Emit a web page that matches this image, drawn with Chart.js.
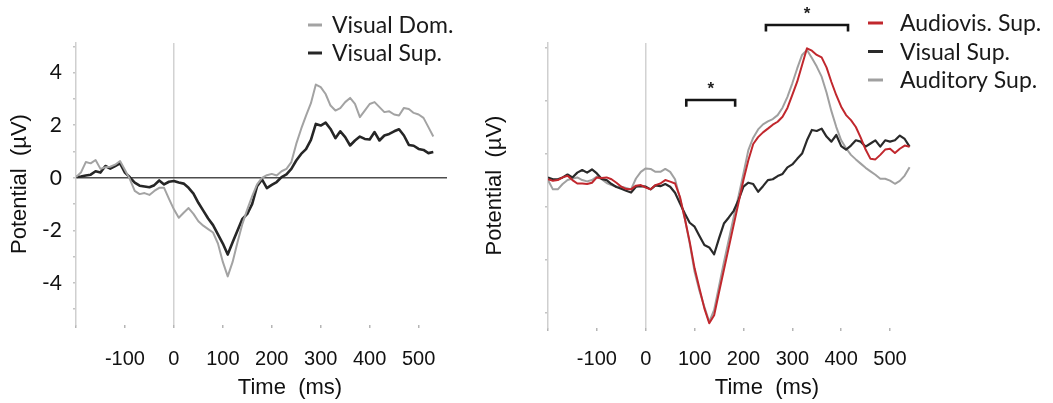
<!DOCTYPE html>
<html>
<head>
<meta charset="utf-8">
<script src="https://cdn.jsdelivr.net/npm/chart.js@4"></script>
<style>
  body { margin: 0; background: #fff; }
  canvas { position: absolute; top: 0; }
  #left-chart { left: 0; }
  #right-chart { left: 472px; }
</style>
</head>
<body>
<canvas id="left-chart" width="470" height="403"></canvas>
<canvas id="right-chart" width="581" height="403"></canvas>
<script>
// Left panel: time points (ms) and the two ERP curves (µV)
const leftTime = [-200, -190, -180, -170, -160, -150, -140, -130, -120, -110, -100, -90, -80, -70, -60, -50, -40, -30, -20, -10,
  0, 10, 20, 30, 40, 50, 60, 70, 80, 90, 100, 110, 120, 130, 140, 150, 160, 170, 180, 190,
  200, 210, 220, 230, 240, 250, 260, 270, 280, 290, 300, 310, 320, 330, 340, 350, 360, 370, 380, 390,
  400, 410, 420, 430, 440, 450, 460, 470, 480, 490, 500, 510, 520, 530];

const visualDom = [0.03, 0.2, 0.6, 0.55, 0.68, 0.34, 0.4, 0.42, 0.5, 0.64, 0.3, -0.05, -0.5, -0.62, -0.58, -0.65, -0.5, -0.38, -0.38, -0.8,
  -1.2, -1.52, -1.33, -1.15, -1.37, -1.65, -1.82, -1.95, -2.08, -2.5, -3.2, -3.75, -3.2, -2.45, -1.75, -1.2, -0.7, -0.25, 0.0, 0.1,
  0.15, 0.09, 0.25, 0.34, 0.6, 1.29, 1.86, 2.37, 2.84, 3.55, 3.45, 3.19, 2.75, 2.56, 2.65, 2.88, 3.04, 2.81, 2.31, 2.56,
  2.81, 2.88, 2.69, 2.5, 2.53, 2.41, 2.37, 2.66, 2.62, 2.47, 2.41, 2.28, 1.93, 1.57];

const visualSupLeft = [0.03, 0.05, 0.09, 0.12, 0.25, 0.2, 0.45, 0.35, 0.45, 0.55, 0.2, 0.02, -0.18, -0.3, -0.33, -0.36, -0.28, -0.1, -0.25, -0.15,
  -0.12, -0.18, -0.22, -0.38, -0.6, -0.95, -1.25, -1.55, -1.8, -2.15, -2.5, -2.92, -2.45, -2.0, -1.56, -1.37, -0.99, -0.32, -0.06, -0.39,
  -0.27, -0.16, 0.03, 0.13, 0.34, 0.66, 0.91, 1.09, 1.44, 2.05, 1.99, 2.1, 1.86, 1.51, 1.77, 1.55, 1.23, 1.42, 1.57, 1.48,
  1.46, 1.74, 1.42, 1.61, 1.67, 1.77, 1.85, 1.61, 1.25, 1.22, 1.1, 1.06, 0.94, 0.98];

// Right panel: time points (ms) and the three ERP curves (µV)
const rightTime = [-200, -190, -180, -170, -160, -150, -140, -130, -120, -110, -100, -90, -80, -70, -60, -50, -40, -30, -20, -10,
  0, 10, 20, 30, 40, 50, 60, 70, 80, 90, 100, 110, 120, 130, 140, 150, 160, 170, 180, 190,
  200, 210, 220, 230, 240, 250, 260, 270, 280, 290, 300, 310, 320, 330, 340, 350, 360, 370, 380, 390,
  400, 410, 420, 430, 440, 450, 460, 470, 480, 490, 500, 510, 520, 530, 540];

const audiovisSup = [0.03, -0.03, 0, 0.1, 0.16, 0, -0.13, -0.13, -0.15, -0.1, 0.1, 0.08, 0.1, 0.03, -0.1, -0.25, -0.34, -0.35, -0.21, -0.19,
  -0.28, -0.35, -0.19, -0.13, 0, -0.06, -0.13, -0.63, -1.45, -2.33, -3.33, -4.09, -4.84, -5.4, -5.1, -4.23, -3.38, -2.54, -1.69, -0.85,
  0, 0.75, 1.36, 1.62, 1.8, 1.94, 2.09, 2.2, 2.39, 2.72, 3.21, 3.71, 4.34, 4.97, 4.88, 4.72, 4.63, 4.25, 3.7, 3.2,
  2.77, 2.45, 2.26, 2.0, 1.6, 1.15, 0.8, 0.78, 0.95, 1.15, 1.18, 1.02, 1.18, 1.3, 1.26];

const visualSupRight = [0.1, 0.03, 0.03, 0.1, 0.21, 0.1, 0.28, 0.38, 0.28, 0.4, 0.25, 0.04, 0, -0.15, -0.26, -0.33, -0.4, -0.47, -0.25, -0.23,
  -0.25, -0.35, -0.2, -0.23, -0.15, -0.25, -0.48, -0.88, -1.26, -1.61, -1.76, -2.11, -2.45, -2.54, -2.8, -2.2, -1.64, -1.41, -1.16, -0.75,
  -0.25, -0.1, -0.15, -0.44, -0.23, 0, 0.03, 0.15, 0.23, 0.48, 0.59, 0.8, 1.0, 1.5, 1.89, 1.85, 1.94, 1.64, 1.45, 1.7,
  1.28, 1.15, 1.3, 1.5, 1.45, 1.26, 1.38, 1.5, 1.26, 1.5, 1.45, 1.5, 1.68, 1.55, 1.26];

const auditorySup = [0, -0.35, -0.35, -0.15, 0, 0.06, 0.1, 0, -0.05, 0, 0.13, 0.03, -0.11, -0.19, -0.25, -0.25, -0.3, -0.35, 0.06, 0.31,
  0.44, 0.42, 0.31, 0.31, 0.42, 0.31, 0.03, -0.69, -1.45, -2.39, -3.46, -4.18, -4.78, -5.35, -4.9, -4.0, -3.1, -2.25, -1.4, -0.6,
  0.25, 1.13, 1.6, 1.91, 2.1, 2.21, 2.3, 2.45, 2.73, 3.14, 3.65, 4.21, 4.72, 4.91, 4.6, 4.28, 3.9, 3.3, 2.6, 2.0,
  1.5, 1.2, 0.95, 0.78, 0.62, 0.46, 0.33, 0.2, 0.05, 0.05, -0.02, -0.14, -0.03, 0.17, 0.48];

// Tick positions shared by both panels
const xTickValues = [-200, -100, 0, 100, 200, 300, 400, 500];
const yTickValues = [-5, -4, -3, -2, -1, 0, 1, 2, 3, 4, 5];

// Significance brackets on the right panel (ms range, µV height)
const bracketStart = [83, 246];
const bracketEnd = [183, 414];
const bracketLevel = [3.02, 5.85];


function toPoints(times, values) {
  return times.map((t, i) => ({ x: t, y: values[i] }));
}


// Legend drawn as short line samples next to the labels, top right of each panel
const lineLegend = {
  id: "lineLegend",
  afterDraw(chart, args, opts) {
    const ctx = chart.ctx;
    ctx.save();
    ctx.font = opts.font;
    ctx.textBaseline = "middle";
    ctx.fillStyle = "#1a1a1a";
    chart.data.datasets.forEach((ds, i) => {
      const yy = opts.y + i * opts.gap;
      ctx.strokeStyle = ds.borderColor;
      ctx.lineWidth = 3;
      ctx.beginPath();
      ctx.moveTo(opts.x, yy);
      ctx.lineTo(opts.x + opts.len, yy);
      ctx.stroke();
      ctx.fillText(ds.label, opts.textX, yy + 1);
    });
    ctx.restore();
  }
};


// The x title sits a little right of the plot centre in the original figure,
// so it is drawn here instead of by the scale
const timeTitle = {
  id: "timeTitle",
  afterDraw(chart, args, opts) {
    const ctx = chart.ctx;
    ctx.save();
    ctx.font = "22px 'Liberation Sans'";
    ctx.fillStyle = "#111";
    ctx.textAlign = "center";
    ctx.textBaseline = "middle";
    ctx.fillText(opts.text, opts.x, opts.y);
    ctx.restore();
  }
};


// Brackets with a star above the significant time windows
const sigBrackets = {
  id: "sigBrackets",
  afterDraw(chart) {
    const { ctx, scales: { x, y } } = chart;
    ctx.save();
    ctx.strokeStyle = "#151515";
    ctx.fillStyle = "#222";
    ctx.lineWidth = 2.6;
    ctx.font = "bold 17px 'Liberation Sans'";
    ctx.textAlign = "center";
    ctx.textBaseline = "middle";
    bracketStart.forEach((start, i) => {
      const x1 = x.getPixelForValue(start);
      const x2 = x.getPixelForValue(bracketEnd[i]);
      const top = y.getPixelForValue(bracketLevel[i]);
      const foot = y.getPixelForValue(bracketLevel[i] - 0.25);
      ctx.beginPath();
      ctx.moveTo(x1, foot);
      ctx.lineTo(x1, top);
      ctx.lineTo(x2, top);
      ctx.lineTo(x2, foot);
      ctx.stroke();
      ctx.fillText("*", (x1 + x2) / 2, y.getPixelForValue(bracketLevel[i] + 0.42));
    });
    ctx.restore();
  }
};


function makeOptions(panel) {
  return {
    responsive: false,
    animation: false,
    devicePixelRatio: 1,
    layout: {
      padding: { left: 0, right: panel.padRight, top: 43, bottom: 0 }
    },
    plugins: {
      legend: { display: false },
      tooltip: { enabled: false },
      lineLegend: panel.legend,
      timeTitle: { text: "Time  (ms)", x: panel.titleX, y: 388 }
    },
    elements: {
      point: { radius: 0 },
      line: { tension: 0, borderJoinStyle: "round" }
    },
    scales: {
      x: {
        type: "linear",
        min: -200,
        max: panel.xMax,
        border: { display: false },
        grid: {
          color: (c) => (c.tick && c.tick.value === 0 ? "#d2d2d2" : "rgba(0,0,0,0)"),
          lineWidth: 1.5,
          tickColor: "#b5b5b5",
          tickLength: 3
        },
        afterBuildTicks: (scale) => {
          scale.ticks = xTickValues.map((v) => ({ value: v }));
        },
        ticks: {
          maxRotation: 0,
          autoSkip: false,
          padding: panel.xTickPad,
          color: "#111",
          font: { family: "'Liberation Sans'", size: 20 },
          callback: (v) => (v >= -100 && v <= 500 ? String(v) : "")
        },
        afterFit: (scale) => { scale.height = panel.xHeight; }
      },
      y: {
        min: panel.yMin,
        max: panel.yMax,
        border: { display: true, color: "#cfcfcf", width: 1.5 },
        grid: {
          color: (c) => (c.tick && c.tick.value === 0 ? panel.zeroColor : "rgba(0,0,0,0)"),
          lineWidth: 1.6,
          tickColor: "#c4c4c4",
          tickLength: 3
        },
        afterBuildTicks: (scale) => {
          scale.ticks = yTickValues.map((v) => ({ value: v }));
        },
        ticks: {
          padding: 11,
          color: "#111",
          font: { family: "Lato", size: panel.yTickSize },
          callback: (v) => (v % 2 === 0 ? String(v) : "")
        },
        title: {
          display: true,
          text: "Potential  (µV)",
          color: "#111",
          font: { family: "'Liberation Sans'", size: 22 },
          padding: { top: panel.yTitlePad, bottom: 0 }
        },
        afterFit: (scale) => { scale.width = 76; }
      }
    }
  };
}


new Chart(document.getElementById("left-chart"), {
  type: "line",
  data: {
    datasets: [{
        label: "Visual Dom.",
        data: toPoints(leftTime, visualDom),
        borderColor: "#a3a3a3",
        borderWidth: 2
      },
      {
        label: "Visual Sup.",
        data: toPoints(leftTime, visualSupLeft),
        borderColor: "#262626",
        borderWidth: 2.6
      }
    ]
  },
  options: makeOptions({
    xMax: 558, yMin: -5.6, yMax: 5.13, padRight: 23, xHeight: 78, xTickPad: 19,
    zeroColor: "#4d4d4d", yTickSize: 21, yTitlePad: 7, titleX: 290,
    legend: { x: 308, textX: 332, y: 25, gap: 28, len: 14, font: "23px Lato" }
  }),
  plugins: [lineLegend, timeTitle]
});


new Chart(document.getElementById("right-chart"), {
  type: "line",
  data: {
    datasets: [{
        label: "Audiovis. Sup.",
        data: toPoints(rightTime, audiovisSup),
        borderColor: "#c1272d",
        borderWidth: 2
      },
      {
        label: "Visual Sup.",
        data: toPoints(rightTime, visualSupRight),
        borderColor: "#2a2a2a",
        borderWidth: 2.2
      },
      {
        label: "Auditory Sup.",
        data: toPoints(rightTime, auditorySup),
        borderColor: "#a0a0a0",
        borderWidth: 2
      }
    ]
  },
  options: makeOptions({
    xMax: 592, yMin: -5.58, yMax: 5.17, padRight: 118, xHeight: 75, xTickPad: 16,
    zeroColor: "#7a7a7a", yTickSize: 23, yTitlePad: 10, titleX: 767 - 472,
    legend: { x: 396, textX: 428, y: 23, gap: 28.5, len: 15, font: "23px Lato" }
  }),
  plugins: [lineLegend, timeTitle, sigBrackets]
});
</script>
</body>
</html>
